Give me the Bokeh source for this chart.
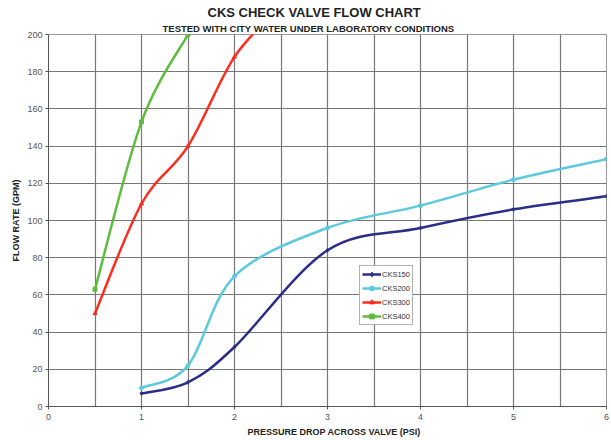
from bokeh.plotting import figure
from bokeh.models import (Range1d, SingleIntervalTicker, FixedTicker, Title, Legend,
                          LegendItem, ColumnDataSource)
from bokeh.embed import file_html
from bokeh.resources import INLINE

# ---- data ----
cks150_x = [1, 1.5, 2, 3, 4, 5, 6]
cks150_y = [7, 13, 32, 84, 96, 106, 113]
cks200_x = [1, 1.5, 2, 3, 4, 5, 6]
cks200_y = [10, 22, 70, 96, 108, 122, 133]
cks300_x = [0.5, 1, 1.5, 2, 2.5]
cks300_y = [50, 109, 140, 188, 215]
cks400_x = [0.5, 1, 1.5]
cks400_y = [63, 153, 200]
series_names = ["CKS150", "CKS200", "CKS300", "CKS400"]
x_ticks = [0, 1, 2, 3, 4, 5, 6]
y_ticks = [0, 20, 40, 60, 80, 100, 120, 140, 160, 180, 200]

colors = ["#2B2E86", "#5CC9DD", "#FF2B1C", "#5EBC3E"]
markers = ["diamond", "circle", "triangle", "square"]
FONT = "Liberation Sans"

W, H = 611, 440
p = figure(width=W, height=H, output_backend="svg", toolbar_location=None,
           x_range=Range1d(0, 6), y_range=Range1d(0, 200),
           min_border_left=48, min_border_right=5, min_border_top=34,
           min_border_bottom=34, background_fill_color="white",
           border_fill_color="white")
p.outline_line_color = "#999999"

# titles (main title centred a bit left of the plot centre, as in the original)
sub = Title(text="TESTED WITH CITY WATER UNDER LABORATORY CONDITIONS", align="left",
            offset=114, text_font=FONT, text_font_size="9.5px", text_font_style="bold",
            text_color="#222222", standoff=2)
main = Title(text="CKS CHECK VALVE FLOW CHART", align="left", offset=159,
             text_font=FONT, text_font_size="13px", text_font_style="bold",
             text_color="#222222", standoff=0)
p.add_layout(sub, "above")
p.add_layout(main, "above")
p.title.visible = False

# axes
p.xaxis.ticker = FixedTicker(ticks=x_ticks)
p.yaxis.ticker = FixedTicker(ticks=y_ticks)
for ax in (p.xaxis[0], p.yaxis[0]):
    ax.major_label_text_font = FONT
    ax.major_label_text_font_size = "9px"
    ax.major_label_text_color = "#555555"
    ax.axis_line_color = "#555555"
    ax.major_tick_line_color = "#555555"
    ax.major_tick_in = 0
    ax.major_tick_out = 3
    ax.minor_tick_line_color = None
    ax.major_label_standoff = 3
p.xaxis.major_label_standoff = 4
p.yaxis.axis_label = "FLOW RATE (GPM)"
p.yaxis.axis_label_text_font = FONT
p.yaxis.axis_label_text_font_size = "9px"
p.yaxis.axis_label_text_font_style = "bold"
p.yaxis.axis_label_text_color = "#222222"
p.yaxis.axis_label_standoff = 3

xl = Title(text="PRESSURE DROP ACROSS VALVE  (PSI)", align="left", offset=199,
           text_font=FONT, text_font_size="9px", text_font_style="bold",
           text_color="#222222", standoff=4)
p.add_layout(xl, "below")

# grid
p.xgrid.ticker = SingleIntervalTicker(interval=0.5)
p.ygrid.ticker = FixedTicker(ticks=y_ticks)
p.xgrid.grid_line_color = "#777777"
p.ygrid.grid_line_color = "#777777"
p.xgrid.grid_line_width = 1.2
p.ygrid.grid_line_width = 1.2


def smooth(xs, ys):
    # cubic bezier segments (Catmull-Rom style control points), like a smoothed spreadsheet line
    n = len(xs)
    x0, y0, x1, y1, cx0, cy0, cx1, cy1 = [], [], [], [], [], [], [], []
    for i in range(n - 1):
        xp, yp = (xs[i - 1], ys[i - 1]) if i > 0 else (xs[i], ys[i])
        xn, yn = (xs[i + 2], ys[i + 2]) if i + 2 < n else (xs[i + 1], ys[i + 1])
        x0.append(xs[i]); y0.append(ys[i])
        x1.append(xs[i + 1]); y1.append(ys[i + 1])
        cx0.append(xs[i] + (xs[i + 1] - xp) / 6); cy0.append(ys[i] + (ys[i + 1] - yp) / 6)
        cx1.append(xs[i + 1] - (xn - xs[i]) / 6); cy1.append(ys[i + 1] - (yn - ys[i]) / 6)
    return dict(x0=x0, y0=y0, x1=x1, y1=y1, cx0=cx0, cy0=cy0, cx1=cx1, cy1=cy1)


items = []
for name, xs, ys, c, m in zip(series_names,
                              [cks150_x, cks200_x, cks300_x, cks400_x],
                              [cks150_y, cks200_y, cks300_y, cks400_y],
                              colors, markers):
    src = ColumnDataSource(smooth(xs, ys))
    p.bezier(x0="x0", y0="y0", x1="x1", y1="y1", cx0="cx0", cy0="cy0",
             cx1="cx1", cy1="cy1", source=src, line_color=c, line_width=2.5)
    ln = p.line([-10, -9], [-10, -9], line_color=c, line_width=2.5)
    sc = p.scatter(xs, ys, marker=m, size=4, color=c)
    items.append(LegendItem(label=name, renderers=[ln, sc]))

legend = Legend(items=items, location=(311, 81), label_text_font=FONT,
                label_text_font_size="7.5px", label_text_color="#333333",
                glyph_width=19, glyph_height=12, label_height=12,
                label_standoff=1, spacing=2, padding=2, margin=0,
                border_line_color="#666666", border_line_width=1,
                background_fill_alpha=1)
p.add_layout(legend, "center")

open("out.html", "w").write(file_html(p, INLINE))
